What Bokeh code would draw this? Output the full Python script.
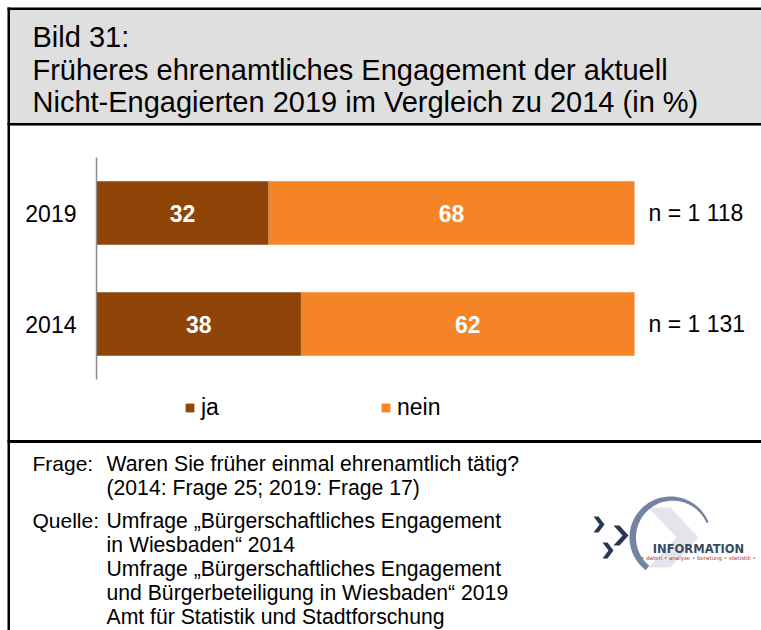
import numpy as np
from bokeh.plotting import figure
from bokeh.models import (Range1d, LinearAxis, FixedTicker, Legend, LegendItem,
                          ColumnDataSource)
from bokeh.core.properties import value
from bokeh.embed import file_html
from bokeh.resources import INLINE

# ---------------- data ----------------
years = ["2014", "2019"]
ja = [38, 32]
nein = [62, 68]
n_labels = ["n = 1 131", "n = 1 118"]
series = ["ja", "nein"]
colors = ["#8E4507", "#F58426"]

title_lines = ["Bild 31:",
               "Früheres ehrenamtliches Engagement der aktuell",
               "Nicht-Engagierten 2019 im Vergleich zu 2014 (in %)"]
frage_head = "Frage:"
frage_lines = ["Waren Sie früher einmal ehrenamtlich tätig?",
               "(2014: Frage 25; 2019: Frage 17)"]
quelle_head = "Quelle:"
quelle_lines = ["Umfrage \u201eBürgerschaftliches Engagement",
                "in Wiesbaden\u201c 2014",
                "Umfrage \u201eBürgerschaftliches Engagement",
                "und Bürgerbeteiligung in Wiesbaden\u201c 2019",
                "Amt für Statistik und Stadtforschung"]
logo_title = "INFORMATION"
logo_sub = "\u2022 daten \u2022 analyse \u2022 beratung \u2022 statistik \u2022"

FONT = "Liberation Sans"
W, H = 761, 630

# layout of the plotting area in page pixels
PX0, PX1 = 96, 634          # value axis 0..100
BAND = 111                  # pixels per category
Y_FIRST = 323.5             # centre of first category (page y)
px_per_unit = (PX1 - PX0) / 100.0
val_range = Range1d(-PX0 / px_per_unit, (W - PX0) / px_per_unit)
cat_range = Range1d((Y_FIRST - H) / BAND, Y_FIRST / BAND)

p = figure(width=W, height=H, x_range=Range1d(0, W), y_range=Range1d(H, 0),
           output_backend="svg", toolbar_location=None, x_axis_location=None,
           y_axis_location=None, min_border=0, outline_line_color=None,
           background_fill_color="white", border_fill_color="white")
p.grid.visible = False
p.extra_x_ranges = {"val": val_range}
p.extra_y_ranges = {"cat": cat_range}

# ---------------- frame / title box ----------------
p.quad(left=[7, 7, 7, 7, 7], right=[W, W, W, W, 9.5],
       top=[7, 7, 122.5, 439.5, 7], bottom=[125, 9.5, 125, 442.5, H],
       fill_color=["#dfdfdf", "black", "black", "black", "black"], line_color=None)


def txt(xs, ys, texts, size, color="black", style="normal", align="left", font=FONT):
    p.text(x=xs, y=ys, text=texts, text_font=value(font), text_font_size=size,
           text_color=color, text_font_style=style, text_align=align, text_baseline="middle")


txt([32] * 3, [36, 69, 101.5], title_lines, "29px")

# ---------------- bars ----------------
idx = np.arange(len(years), dtype=float)
ja_a = np.array(ja, dtype=float)
nein_a = np.array(nein, dtype=float)
src = ColumnDataSource(dict(y=idx, ja=ja, nein=nein))
rs = p.hbar_stack(series, y="y", height=0.57, color=colors, line_color=None, source=src,
                  x_range_name="val", y_range_name="cat")
lab_src = ColumnDataSource(dict(
    x=np.concatenate([ja_a / 2, ja_a + nein_a / 2]),
    y=np.concatenate([idx, idx]),
    t=[str(v) for v in ja] + [str(v) for v in nein]))
p.text(x="x", y="y", text="t", source=lab_src, x_range_name="val", y_range_name="cat",
       text_color="white", text_font=value(FONT), text_font_style="bold",
       text_font_size="23px", text_align="center", text_baseline="middle")

# ---------------- axes ----------------
lax = LinearAxis(y_range_name="cat", fixed_location=PX0,
                 ticker=FixedTicker(ticks=list(idx)),
                 major_label_overrides={float(i): y for i, y in zip(idx, years)},
                 bounds=(-0.5, len(years) - 0.5),
                 axis_line_color="#8c8c8c", axis_line_width=1.5,
                 major_tick_line_color=None, minor_tick_line_color=None,
                 major_tick_out=0, major_tick_in=0, major_label_standoff=20,
                 major_label_text_font=FONT, major_label_text_font_size="23px",
                 major_label_text_color="black")
p.add_layout(lax, "left")

rax = LinearAxis(y_range_name="cat", fixed_location=PX1,
                 ticker=FixedTicker(ticks=list(idx)),
                 major_label_overrides={float(i): n for i, n in zip(idx, n_labels)},
                 axis_line_color=None, major_tick_line_color=None,
                 minor_tick_line_color=None, major_tick_out=0, major_tick_in=0,
                 major_label_standoff=14, major_label_text_font=FONT,
                 major_label_text_font_size="23px", major_label_text_color="black")
p.add_layout(rax, "right")

legend = Legend(items=[LegendItem(label=s, renderers=[r]) for s, r in zip(series, rs)],
                orientation="horizontal", location=(184, H - 421), spacing=159,
                glyph_width=11, glyph_height=11, label_standoff=6, padding=0, margin=0,
                border_line_color=None, background_fill_alpha=0,
                label_text_font=FONT, label_text_font_size="23px", label_text_color="black")
p.add_layout(legend, "center")

# ---------------- footer ----------------
y0 = 463
txt([32], [y0], [frage_head], "21px")
txt([106] * len(frage_lines), [y0 + 24 * i for i in range(len(frage_lines))],
    frage_lines, "21.2px")
q0 = y0 + 24 * len(frage_lines) + 9
txt([32], [q0], [quelle_head], "21px")
txt([106] * len(quelle_lines), [q0 + 24 * i for i in range(len(quelle_lines))],
    quelle_lines, "21.2px")

# logo (decorative)
cx, cy = 670.0, 537.0
th = np.radians(np.linspace(22, 233, 90))
thick = 2 + 4.5 * (1 + np.cos(th - np.pi)) / 2
ro, ri = 41.0, 41.0 - thick
arc_x = list(cx + ro * np.cos(th)) + list((cx + ri * np.cos(th))[::-1])
arc_y = list(cy - ro * np.sin(th)) + list((cy - ri * np.sin(th))[::-1])


def chev(x0, yt, w, h, t):
    return ([x0, x0 + t, x0 + w, x0 + t, x0, x0 + w - t],
            [yt, yt, yt + h / 2, yt + h, yt + h, yt + h / 2])


big = chev(648, 507, 50, 60, 22)
c1 = chev(593, 516, 11, 16, 5)
c2 = chev(613, 525, 15, 20, 6)
c3 = chev(602, 542, 11, 16, 5)
p.patches(xs=[big[0], arc_x, c1[0], c2[0], c3[0]],
          ys=[big[1], arc_y, c1[1], c2[1], c3[1]],
          fill_color=["#e4e5ea", "#7583a3", "#263850", "#263850", "#263850"],
          line_color=None)
txt([698], [548], [logo_title], "11.5px", "#3b4a5e", "bold", "center", "DejaVu Sans")
txt([698], [557], [logo_sub], "5.5px", "#c0392b", "normal", "center", "DejaVu Sans")

open("out.html", "w").write(file_html(p, INLINE))
